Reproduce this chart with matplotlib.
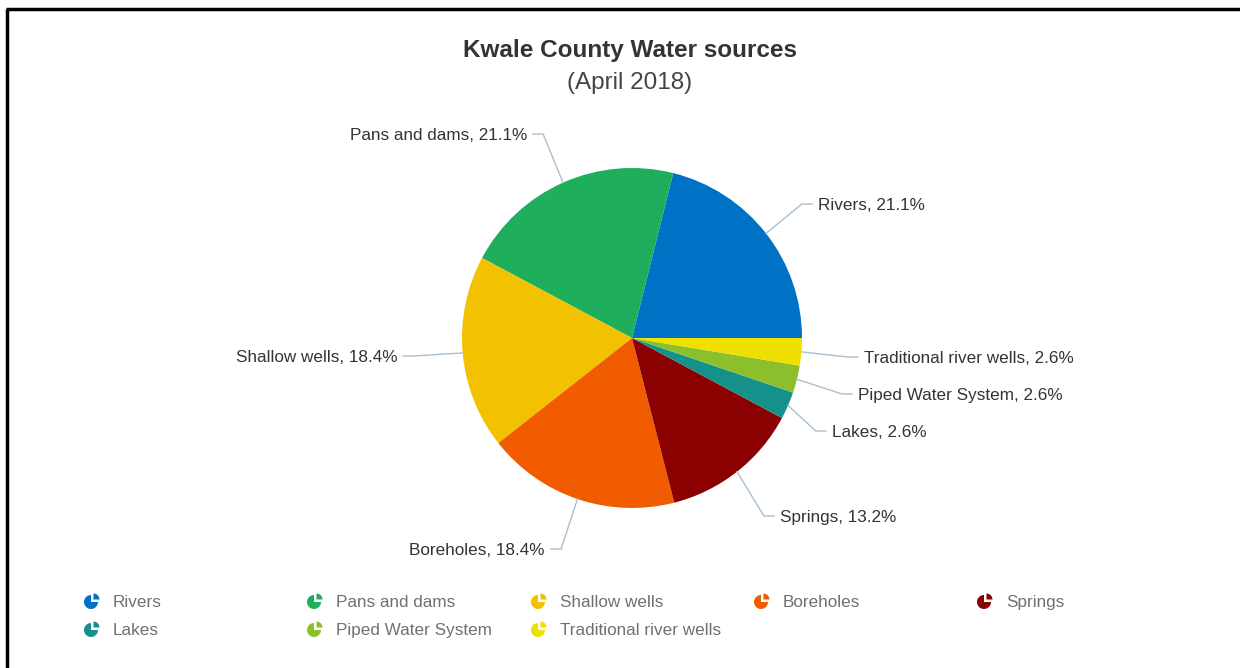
import numpy as np
import matplotlib
matplotlib.use("Agg")
import matplotlib.pyplot as plt
from matplotlib.patches import Wedge
from matplotlib.lines import Line2D

# ---- data -------------------------------------------------------------
categories = ["Rivers", "Pans and dams", "Shallow wells", "Boreholes",
              "Springs", "Lakes", "Piped Water System", "Traditional river wells"]
shares = [21.1, 21.1, 18.4, 18.4, 13.2, 2.6, 2.6, 2.6]
colors = ["#0072c6", "#1fae5b", "#f2c200", "#f25c00",
          "#8b0000", "#15918c", "#8cbf2c", "#f0e000"]

title = "Kwale County Water sources"
subtitle = "(April 2018)"

# label anchor positions in pie-radius units (x, y)
label_pos = [(1.094, 0.788), (-0.618, 1.200), (-1.382, -0.106), (-0.512, -1.241),
             (0.871, -1.047), (1.176, -0.547), (1.329, -0.329), (1.365, -0.112)]

W, H = 1240, 668
plt.rcParams["font.family"] = ["Liberation Sans", "DejaVu Sans"]

fig = plt.figure(figsize=(W / 100, H / 100), dpi=100)
fig.patch.set_facecolor("white")

# ---- pie ----------------------------------------------------------------
cx, cy, R = 632, 338, 170
ax = fig.add_axes([(cx - R) / W, (H - cy - R) / H, 2 * R / W, 2 * R / H])
wedges, _ = ax.pie(shares, colors=colors, startangle=0, counterclock=True,
                   radius=1.0, wedgeprops=dict(linewidth=0))
ax.set_xlim(-1, 1)
ax.set_ylim(-1, 1)
ax.set_aspect("equal")
ax.axis("off")

conn_color = "#a9bfcf"
for w, name, val, (lx, ly) in zip(wedges, categories, shares, label_pos):
    mid = np.deg2rad((w.theta1 + w.theta2) / 2)
    ex, ey = np.cos(mid), np.sin(mid)
    side = 1 if lx > 0 else -1
    hend = lx - side * 0.035
    hstart = hend - side * 0.06
    ax.add_line(Line2D([ex, hstart, hend], [ey, ly, ly], color=conn_color,
                       lw=1.0, clip_on=False))
    ax.text(lx, ly, f"{name}, {val:.1f}%", ha="left" if side > 0 else "right",
            va="center_baseline", fontsize=12.3, color="#333333", clip_on=False)

# ---- titles ------------------------------------------------------------
fig.text(630 / W, 1 - 48 / H, title, ha="center", va="center_baseline",
         fontsize=17.5, fontweight="bold", color="#333333")
fig.text(630 / W, 1 - 80 / H, subtitle, ha="center", va="center_baseline",
         fontsize=17.5, color="#444444")

# ---- overlay in pixel units: legend and frame lines -----------------------
ov = fig.add_axes([0, 0, 1, 1], zorder=5)
ov.set_xlim(0, W)
ov.set_ylim(0, H)
ov.axis("off")
ov.patch.set_alpha(0)

col_x = [92, 315, 539, 762, 985]
row_y = [601, 629]
r_icon = 7
for i, (name, col) in enumerate(zip(categories, colors)):
    x = col_x[i % 5]
    y = H - row_y[i // 5]
    ov.add_patch(Wedge((x - 1, y - 1), r_icon, 90, 360, facecolor=col, lw=0))
    ov.add_patch(Wedge((x + 1.5, y + 1.5), r_icon - 1, 0, 90, facecolor=col, lw=0))
    ov.text(x + 21, y, name, ha="left", va="center_baseline", fontsize=12.3,
            color="#707070")

ov.add_line(Line2D([7, 7], [0, H - 9], color="black", lw=2.5,
                   solid_capstyle="butt"))
ov.add_line(Line2D([6, W], [H - 9, H - 9], color="black", lw=2.5,
                   solid_capstyle="butt"))

fig.savefig("out.png", dpi=100, facecolor="white")
